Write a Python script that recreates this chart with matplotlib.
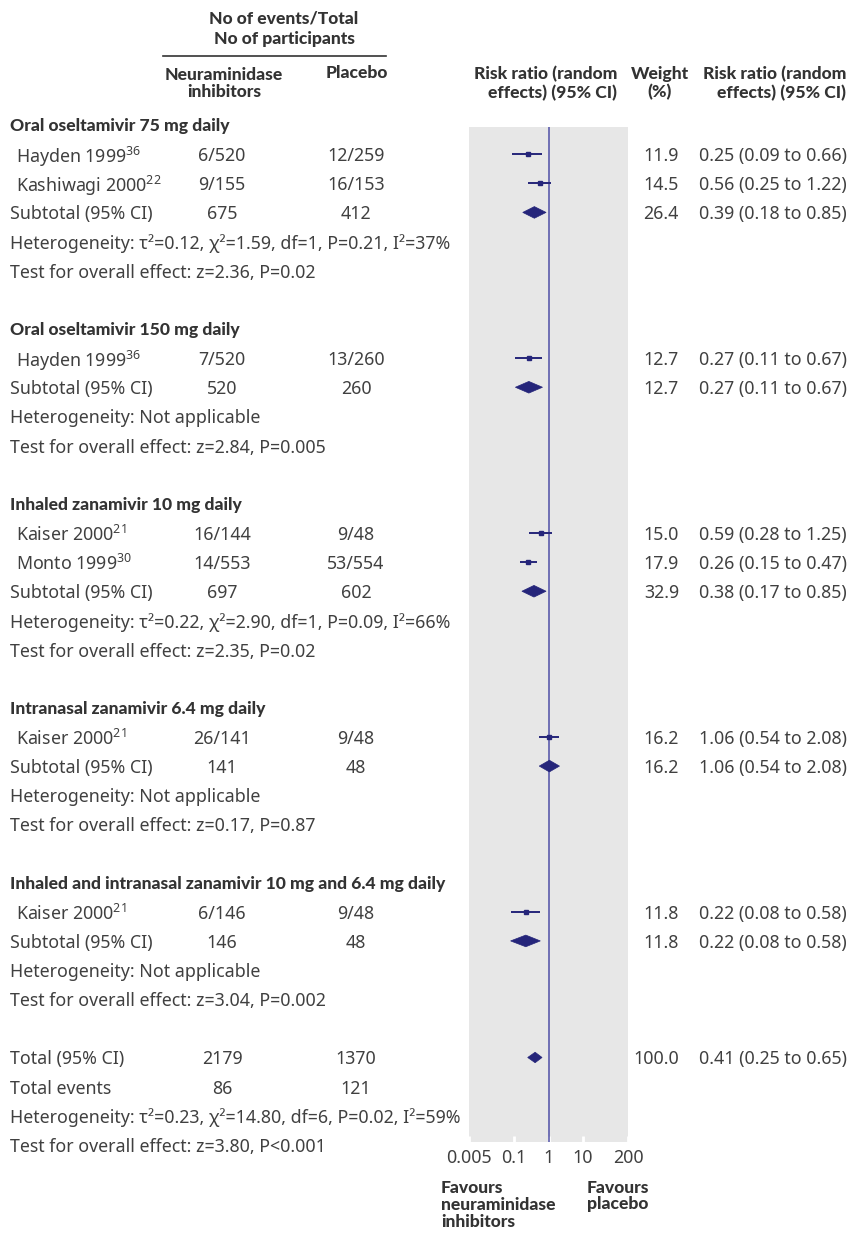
import matplotlib
matplotlib.use('Agg')
import matplotlib.pyplot as plt
from matplotlib.transforms import blended_transform_factory
from matplotlib.patches import Polygon

# ---------------- data ----------------
group_names = ["Oral oseltamivir 75 mg daily",
               "Oral oseltamivir 150 mg daily",
               "Inhaled zanamivir 10 mg daily",
               "Intranasal zanamivir 6.4 mg daily",
               "Inhaled and intranasal zanamivir 10 mg and 6.4 mg daily"]
study_group = [0, 0, 1, 2, 2, 3, 4]
study_names = ["Hayden 1999", "Kashiwagi 2000", "Hayden 1999", "Kaiser 2000",
               "Monto 1999", "Kaiser 2000", "Kaiser 2000"]
study_refs = ["36", "22", "36", "21", "30", "21", "21"]
study_ni = ["6/520", "9/155", "7/520", "16/144", "14/553", "26/141", "6/146"]
study_pl = ["12/259", "16/153", "13/260", "9/48", "53/554", "9/48", "9/48"]
study_w = [11.9, 14.5, 12.7, 15.0, 17.9, 16.2, 11.8]
study_rr = [0.25, 0.56, 0.27, 0.59, 0.26, 1.06, 0.22]
study_lo = [0.09, 0.25, 0.11, 0.28, 0.15, 0.54, 0.08]
study_hi = [0.66, 1.22, 0.67, 1.25, 0.47, 2.08, 0.58]

sub_ni = [675, 520, 697, 141, 146]
sub_pl = [412, 260, 602, 48, 48]
sub_w = [26.4, 12.7, 32.9, 16.2, 11.8]
sub_rr = [0.39, 0.27, 0.38, 1.06, 0.22]
sub_lo = [0.18, 0.11, 0.17, 0.54, 0.08]
sub_hi = [0.85, 0.67, 0.85, 2.08, 0.58]
het_text = ["τ²=0.12, χ²=1.59, df=1, P=0.21, I²=37%",
            "Not applicable",
            "τ²=0.22, χ²=2.90, df=1, P=0.09, I²=66%",
            "Not applicable",
            "Not applicable"]
test_text = ["z=2.36, P=0.02", "z=2.84, P=0.005", "z=2.35, P=0.02",
             "z=0.17, P=0.87", "z=3.04, P=0.002"]

total_ni, total_pl = 2179, 1370
total_w, total_rr, total_lo, total_hi = 100.0, 0.41, 0.25, 0.65
events_ni, events_pl = 86, 121
total_het = "τ²=0.23, χ²=14.80, df=6, P=0.02, I²=59%"
total_test = "z=3.80, P<0.001"

xticks = [0.005, 0.1, 1, 10, 200]
xtick_labels = ["0.005", "0.1", "1", "10", "200"]

# ---------------- style ----------------
W, H = 850, 1233
BODY = "Noto Sans"
BOLD = "Lato"
FS = 12.8
HFS = 12.6
TXT = "#404040"
HDR = "#333333"
NAVY = "#25257a"
VLINE = "#4f4fa6"
GRAY = "#e7e7e7"

plt.rcParams['font.family'] = [BODY, 'DejaVu Sans']
plt.rcParams['mathtext.default'] = 'regular'

fig = plt.figure(figsize=(W / 100, H / 100), dpi=100)
fig.patch.set_facecolor('white')

pitch = 29.14
row0 = 125.0
ax_top, ax_bot = 127.0, 1142.0
ax_l, ax_r = 469.0, 628.0
ax = fig.add_axes([ax_l / W, 1 - ax_bot / H, (ax_r - ax_l) / W, (ax_bot - ax_top) / H])
ax.set_xscale('log')
ax.set_xlim(0.005, 200)
ax.set_ylim((ax_bot - row0) / pitch, (ax_top - row0) / pitch)
ax.set_facecolor(GRAY)
for s in ax.spines.values():
    s.set_visible(False)
ax.set_yticks([])
ax.set_xticks(xticks)
ax.set_xticklabels(xtick_labels)
ax.minorticks_off()
ax.tick_params(axis='x', direction='in', length=4, width=2, color='white',
               labelsize=FS, labelcolor=TXT, pad=5)
ax.axvline(1, color=VLINE, lw=1.1, zorder=2)

tr = blended_transform_factory(fig.transFigure, ax.transData)


def txt(xpx, row, s, ha='left', bold=False):
    if bold:
        fig.text(xpx / W, row, s, transform=tr, ha=ha, va='center_baseline',
                 fontsize=HFS, family=BOLD, weight='black', color=HDR)
    else:
        fig.text(xpx / W, row, s, transform=tr, ha=ha, va='center_baseline',
                 fontsize=FS, color=TXT)


X_LAB, X_STUDY, X_NI, X_PL, X_W, X_RR = 10, 16, 222, 356, 679, 699


def ci_text(rr, lo, hi):
    return f"{rr:.2f} ({lo:.2f} to {hi:.2f})"


def diamond(row, rr, lo, hi, h=0.2):
    ax.add_patch(Polygon([[lo, row], [rr, row - h], [hi, row], [rr, row + h]],
                         closed=True, facecolor=NAVY, edgecolor=NAVY, lw=0.5, zorder=3))


row = 0
for g, gname in enumerate(group_names):
    txt(X_LAB, row, gname, bold=True)
    row += 1
    for i, sg in enumerate(study_group):
        if sg != g:
            continue
        txt(X_STUDY, row, f"{study_names[i]}$^{{{study_refs[i]}}}$")
        txt(X_NI, row, study_ni[i], ha='center')
        txt(X_PL, row, study_pl[i], ha='center')
        txt(X_W, row, f"{study_w[i]:.1f}", ha='right')
        txt(X_RR, row, ci_text(study_rr[i], study_lo[i], study_hi[i]))
        ax.plot([study_lo[i], study_hi[i]], [row, row], color=NAVY, lw=1.4,
                solid_capstyle='butt', zorder=3)
        ax.plot([study_rr[i]], [row], marker='s', ms=3.2, color=NAVY, zorder=4)
        row += 1
    txt(X_LAB, row, "Subtotal (95% CI)")
    txt(X_NI, row, f"{sub_ni[g]}", ha='center')
    txt(X_PL, row, f"{sub_pl[g]}", ha='center')
    txt(X_W, row, f"{sub_w[g]:.1f}", ha='right')
    txt(X_RR, row, ci_text(sub_rr[g], sub_lo[g], sub_hi[g]))
    diamond(row, sub_rr[g], sub_lo[g], sub_hi[g])
    row += 1
    txt(X_LAB, row, "Heterogeneity: " + het_text[g])
    row += 1
    txt(X_LAB, row, "Test for overall effect: " + test_text[g])
    row += 2

txt(X_LAB, row, "Total (95% CI)")
txt(X_NI, row, f"{total_ni}", ha='center')
txt(X_PL, row, f"{total_pl}", ha='center')
txt(X_W, row, f"{total_w:.1f}", ha='right')
txt(X_RR, row, ci_text(total_rr, total_lo, total_hi))
diamond(row, total_rr, total_lo, total_hi, h=0.18)
row += 1
txt(X_LAB, row, "Total events")
txt(X_NI, row, f"{events_ni}", ha='center')
txt(X_PL, row, f"{events_pl}", ha='center')
row += 1
txt(X_LAB, row, "Heterogeneity: " + total_het)
row += 1
txt(X_LAB, row, "Test for overall effect: " + total_test)


# ---------------- headers ----------------
def htext(xpx, ypx, s, ha='center', ls=1.0, va='center'):
    fig.text(xpx / W, 1 - ypx / H, s, ha=ha, va=va, fontsize=HFS,
             family=BOLD, weight='black', color=HDR, linespacing=ls,
             multialignment=ha)


htext(284, 18, "No of events/Total")
htext(284, 39, "No of participants")
fig.add_artist(plt.Line2D([163 / W, 386 / W], [1 - 56 / H, 1 - 56 / H], color='#333333', lw=1.2))
htext(224, 83.5, "Neuraminidase\ninhibitors", ls=1.15)
htext(357, 73, "Placebo")
htext(617, 83.5, "Risk ratio (random\neffects) (95% CI)", ha='right', ls=1.15)
htext(660, 83.5, "Weight\n(%)", ls=1.15)
htext(846, 83.5, "Risk ratio (random\neffects) (95% CI)", ha='right', ls=1.15)

htext(441, 1205, "Favours\nneuraminidase\ninhibitors", ha='left', ls=1.05)
htext(587, 1196, "Favours\nplacebo", ha='left', ls=1.05)

fig.savefig("out.png", dpi=100)
